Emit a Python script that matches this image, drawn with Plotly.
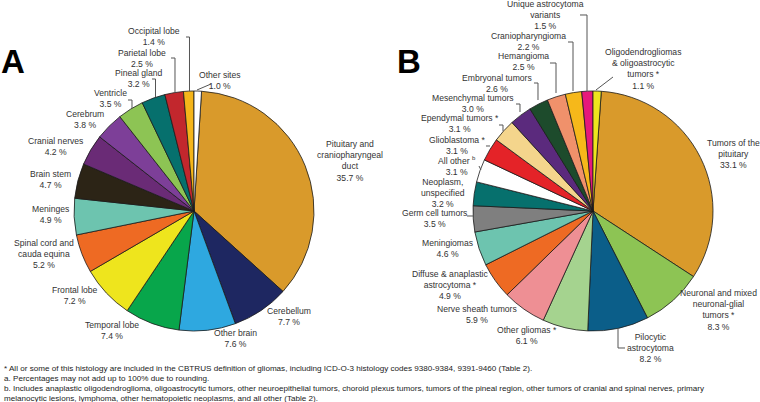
import plotly.graph_objects as go

W, H = 760, 402

# Panel A: site distribution
site_names = ["Pituitary and craniopharyngeal duct", "Cerebellum", "Other brain", "Temporal lobe",
              "Frontal lobe", "Spinal cord and cauda equina", "Meninges", "Brain stem",
              "Cranial nerves", "Cerebrum", "Ventricle", "Pineal gland", "Parietal lobe",
              "Occipital lobe", "Other sites"]
site_values = [35.7, 7.7, 7.6, 7.4, 7.2, 5.2, 4.9, 4.7, 4.2, 3.8, 3.5, 3.2, 2.5, 1.4, 1.0]
site_colors = ["#D99A2B", "#1E2761", "#2EA8E0", "#08A64B", "#EEE51D", "#EE6A23", "#6DC4AF",
               "#2C2416", "#6A2B76", "#7D3F98", "#8DC454", "#06706D", "#C2272D", "#F5B51A",
               "#FFFFFF"]
site_labels = ["Pituitary and<br>craniopharyngeal<br>duct", "Cerebellum", "Other brain",
               "Temporal lobe", "Frontal lobe", "Spinal cord and<br>cauda equina", "Meninges",
               "Brain stem", "Cranial nerves", "Cerebrum", "Ventricle", "Pineal gland",
               "Parietal lobe", "Occipital lobe", "Other sites"]

# Panel B: histology distribution
hist_names = ["Tumors of the pituitary", "Neuronal and mixed neuronal-glial tumors",
              "Pilocytic astrocytoma", "Other gliomas", "Nerve sheath tumors",
              "Diffuse & anaplastic astrocytoma", "Meningiomas", "Germ cell tumors",
              "Neoplasm, unspecified", "All other", "Glioblastoma", "Ependymal tumors",
              "Mesenchymal tumors", "Embryonal tumors", "Hemangioma", "Craniopharyngioma",
              "Unique astrocytoma variants", "Oligodendrogliomas & oligoastrocytic tumors"]
hist_values = [33.1, 8.3, 8.2, 6.1, 5.9, 4.9, 4.6, 3.5, 3.2, 3.1, 3.1, 3.1, 3.0, 2.6, 2.5,
               2.2, 1.5, 1.1]
hist_colors = ["#D99A2B", "#8DC454", "#0B5E89", "#A5D38F", "#EE8F94", "#EE6A23", "#6DC4AF",
               "#7F7F7F", "#06706D", "#FFFFFF", "#E42328", "#F4D58C", "#5B2A7D", "#1D4B2C",
               "#F0916B", "#F6B81A", "#E6197B", "#EEE51D"]
hist_labels = ["Tumors of the<br>pituitary", "Neuronal and mixed<br>neuronal-glial<br>tumors *",
               "Pilocytic<br>astrocytoma", "Other gliomas *", "Nerve sheath tumors",
               "Diffuse & anaplastic<br>astrocytoma *", "Meningiomas", "Germ cell tumors",
               "Neoplasm,<br>unspecified", "All other <sup>b</sup>", "Glioblastoma *",
               "Ependymal tumors *", "Mesenchymal tumors", "Embryonal tumors", "Hemangioma",
               "Craniopharyngioma", "Unique astrocytoma<br>variants",
               "Oligodendrogliomas<br>& oligoastrocytic<br>tumors *"]

footnotes = [
    "* All or some of this histology are included in the CBTRUS definition of gliomas, including ICD-O-3 histology codes 9380-9384, 9391-9460 (Table 2).",
    "a. Percentages may not add up to 100% due to rounding.",
    "b. Includes anaplastic oligodendroglioma, oligoastrocytic tumors, other neuroepithelial tumors, choroid plexus tumors, tumors of the pineal region, other tumors of cranial and spinal nerves, primary",
    "melanocytic lesions, lymphoma, other hematopoietic neoplasms, and all other (Table 2).",
]

# label centre positions in pixels (x, y of block centre)
site_pos = [(350, 161), (289, 316), (235, 338), (112, 330), (75, 295), (44, 254), (50, 215),
            (50, 179), (56, 146), (85, 120), (110, 99), (139, 78), (142, 58), (154, 37), (220, 80)]
hist_pos = [(733, 154), (718, 310), (650, 348), (527, 335), (477, 314), (450, 285), (447, 248),
            (434, 218), (443, 193), (457, 166), (457, 145), (460, 124), (473, 104), (497, 83),
            (523, 62), (528, 41), (545, 15), (643, 69)]

# leader lines in pixels
site_leaders = [
    [(186, 37), (189.5, 37), (189.5, 91)],
    [(171, 58), (175, 58), (175, 93)],
    [(152, 79), (155.5, 79), (155.5, 97)],
    [(128, 100), (132, 100), (132, 108)],
    [(197, 90), (211, 84)],
]
hist_leaders = [
    [(580, 15), (587, 15), (587, 91)],
    [(568, 42), (573, 42), (573, 91)],
    [(550, 63), (556, 63), (556, 93)],
    [(534, 83), (538, 83), (538, 100)],
    [(516, 104), (520, 104), (520, 112)],
    [(499, 125), (503, 125), (503, 131)],
    [(486, 146), (490, 146)],
    [(479, 166), (481, 170)],
    [(467, 216), (473, 216)],
    [(618, 328), (618, 348), (625, 348)],
    [(596, 90), (613, 77)],
]


def px(x, y):
    return x / W, 1 - y / H


def pie_domain(cx, cy, r):
    return dict(x=[(cx - r) / W, (cx + r) / W], y=[1 - (cy + r) / H, 1 - (cy - r) / H])


fig = go.Figure()

for vals, cols, names, cx in [(site_values, site_colors, site_names, 194),
                              (hist_values, hist_colors, hist_names, 593)]:
    fig.add_trace(go.Pie(
        values=vals, labels=names, sort=False, direction="clockwise",
        rotation=vals[-1] / sum(vals) * 360,
        marker=dict(colors=cols, line=dict(color="#1a1a1a", width=0.8)),
        textinfo="none", hoverinfo="label+value", showlegend=False,
        domain=pie_domain(cx, 211, 120),
    ))

annotations = []
lab_font = dict(family="Liberation Sans, Arial, sans-serif", size=8.6, color="#333333")
for labels, vals, pos in [(site_labels, site_values, site_pos), (hist_labels, hist_values, hist_pos)]:
    for lab, v, (x, y) in zip(labels, vals, pos):
        xp, yp = px(x, y)
        annotations.append(dict(x=xp, y=yp, xref="paper", yref="paper", showarrow=False,
                                text=f"{lab}<br>{v:.1f} %", font=lab_font,
                                xanchor="center", yanchor="middle", align="center"))

for letter, x in [("A", 13), ("B", 409)]:
    xp, yp = px(x, 62)
    annotations.append(dict(x=xp, y=yp, xref="paper", yref="paper", showarrow=False,
                            text=f"<b>{letter}</b>", xanchor="center", yanchor="middle",
                            font=dict(family="Liberation Sans, Arial, sans-serif", size=33,
                                      color="black")))

for i, line in enumerate(footnotes):
    xp, yp = px(2, 368 + 10 * i)
    annotations.append(dict(x=xp, y=yp, xref="paper", yref="paper", showarrow=False,
                            text=line, xanchor="left", yanchor="middle",
                            font=dict(family="Liberation Sans Narrow, Arial Narrow, Liberation Sans",
                                      size=8.1, color="#222222")))

shapes = []
for pts in site_leaders + hist_leaders:
    path = " ".join(("M" if k == 0 else "L") + f" {px(*p)[0]:.5f},{px(*p)[1]:.5f}"
                    for k, p in enumerate(pts))
    shapes.append(dict(type="path", path=path, xref="paper", yref="paper",
                       line=dict(color="#555555", width=1)))

fig.update_layout(
    width=W, height=H,
    margin=dict(l=0, r=0, t=0, b=0),
    paper_bgcolor="white", plot_bgcolor="white",
    annotations=annotations, shapes=shapes,
)

# drop the browser's default body margin so the figure sits at the window corner
fig.write_html("out.html", config={"displayModeBar": False},
               post_script="document.body.style.margin='0';")
